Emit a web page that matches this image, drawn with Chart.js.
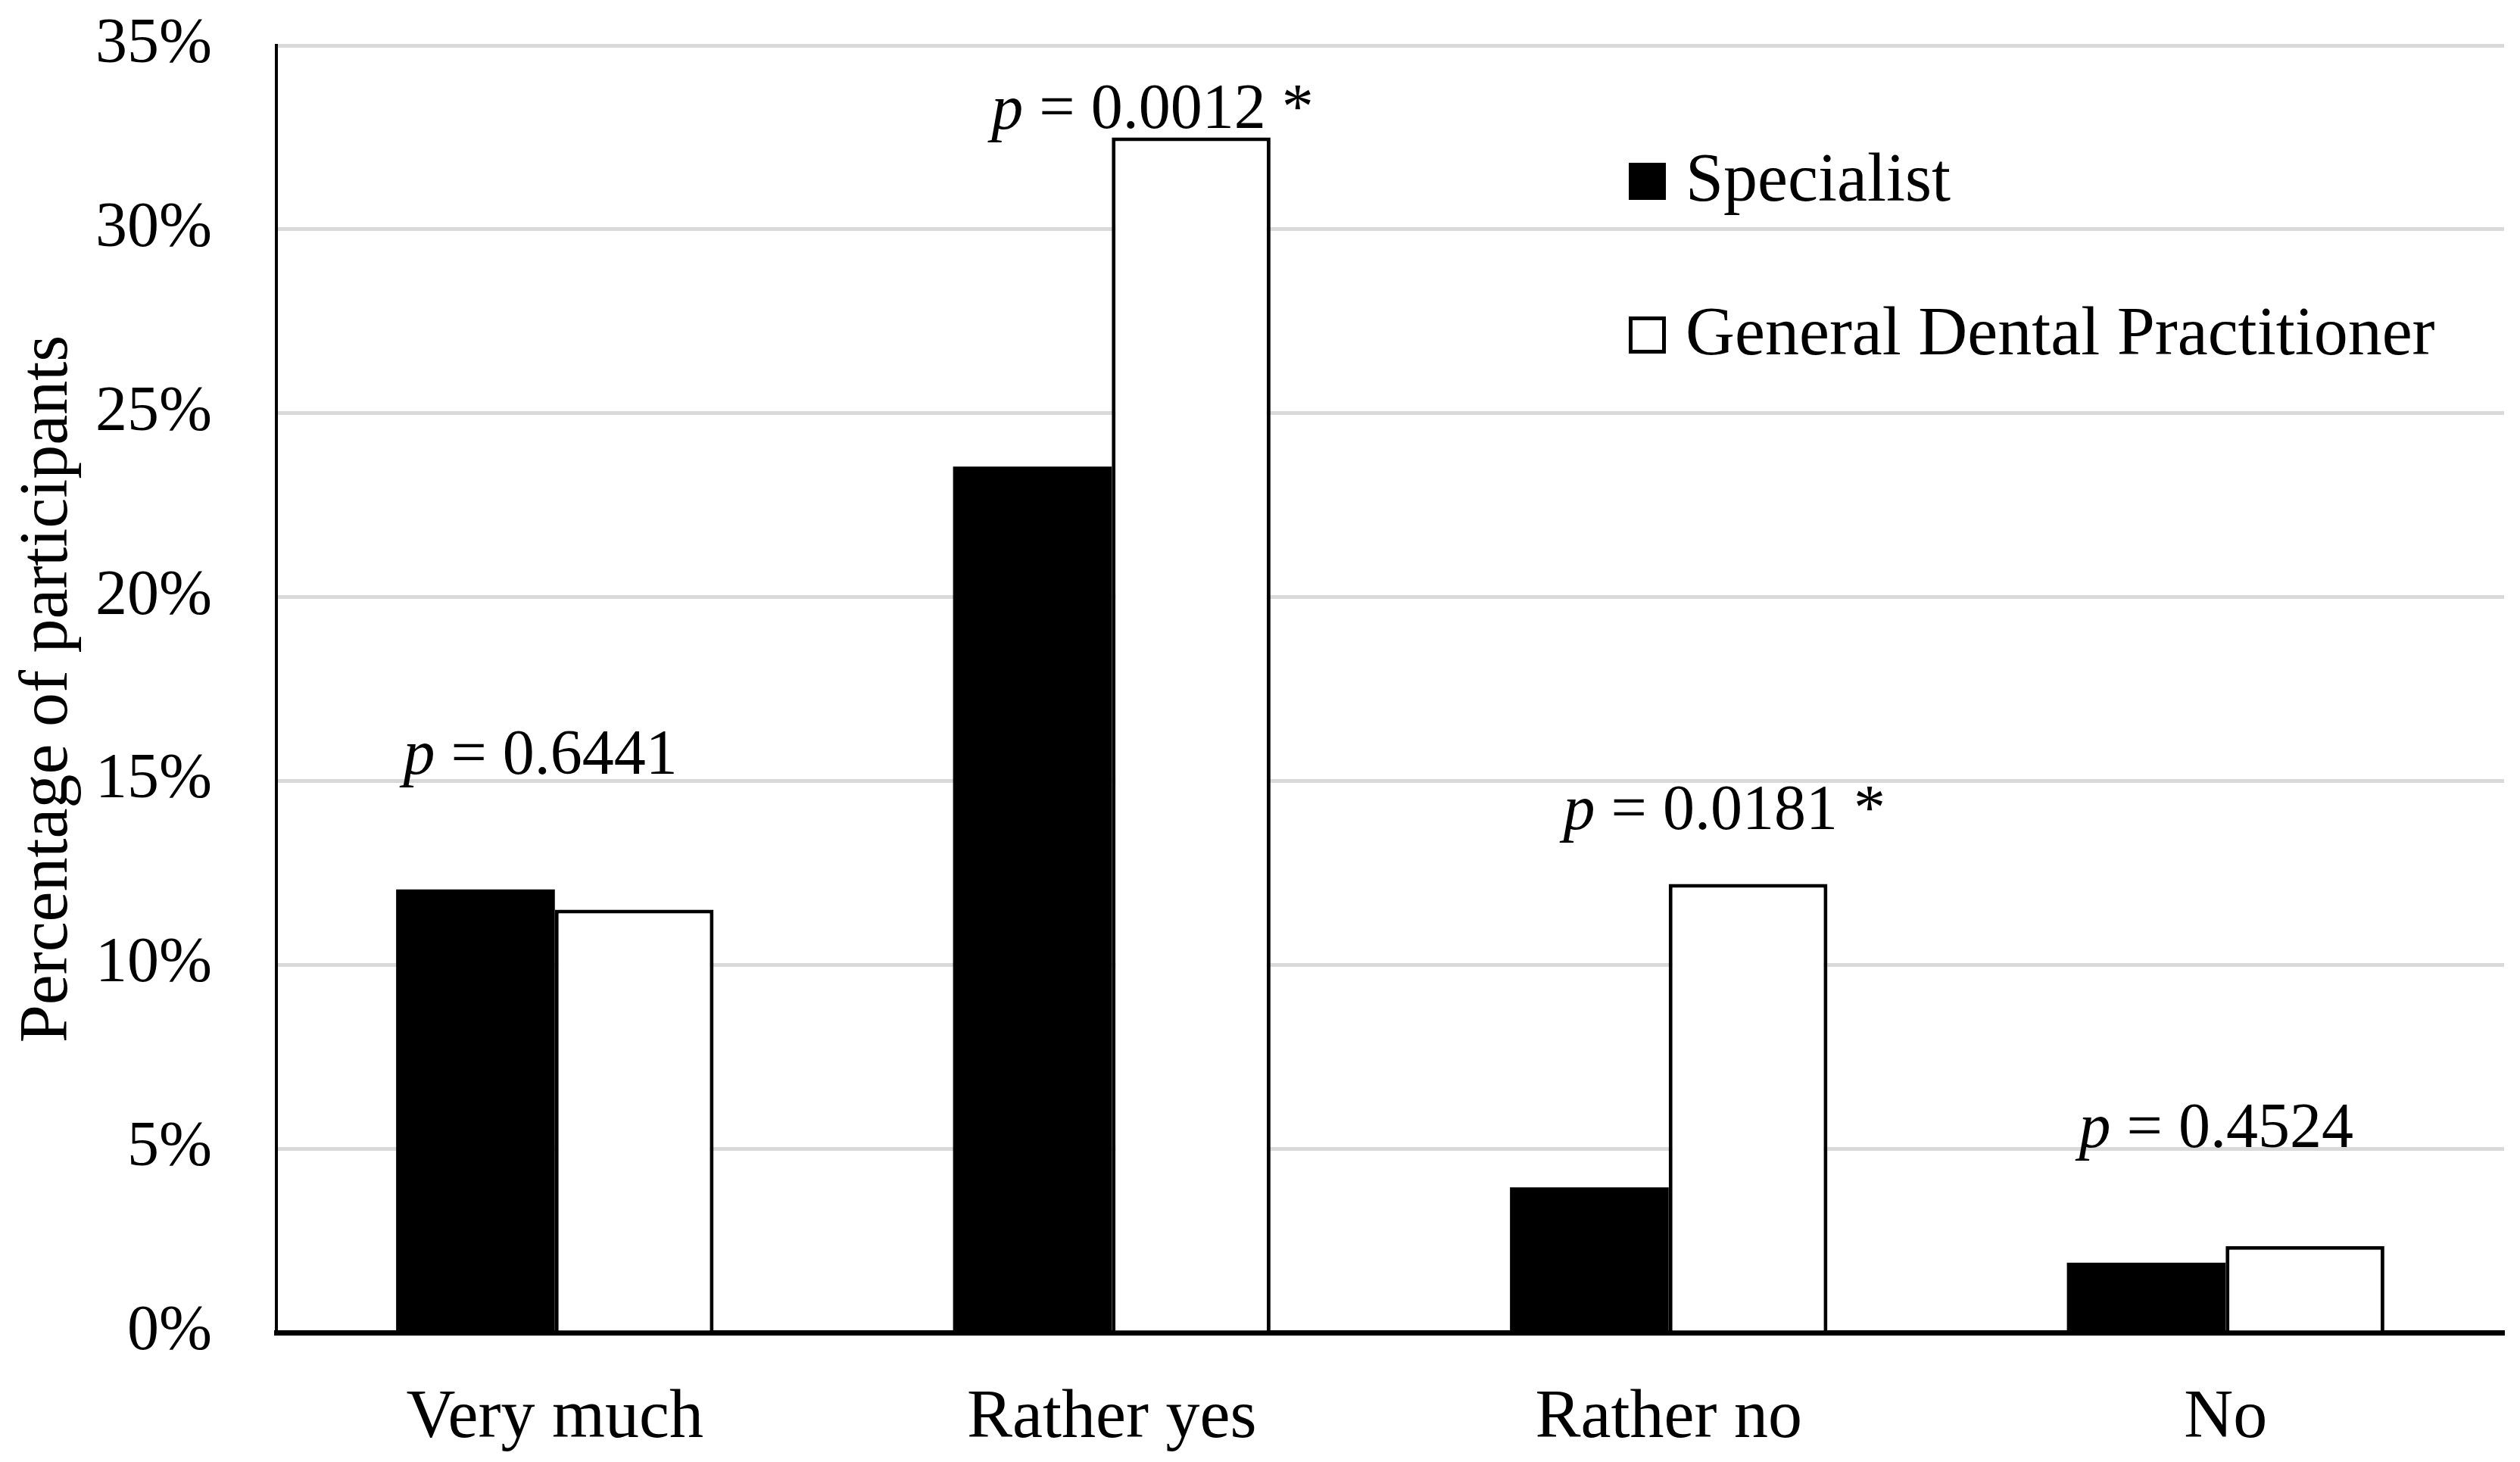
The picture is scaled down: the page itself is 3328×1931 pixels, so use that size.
<!DOCTYPE html>
<html>
<head>
<meta charset="utf-8">
<script src="https://cdn.jsdelivr.net/npm/chart.js@4.4.1/dist/chart.umd.min.js"></script>
<style>
  html, body { margin: 0; padding: 0; background: #fff; }
  #wrap { width: 3328px; height: 1931px; }
</style>
</head>
<body>
<div id="wrap"><canvas id="surveyChart" width="3328" height="1931"></canvas></div>
<script>
const categories = ["Very much", "Rather yes", "Rather no", "No"];
const specialist = [12.05, 23.55, 3.95, 1.9];
const generalDentist = [11.5, 32.5, 12.2, 2.35];
const pValues = ["0.6441", "0.0012 *", "0.0181 *", "0.4524"];
// where each p label sits: value on the y axis, shift in category widths
const pLabelAt = [15.65, 33.2, 14.15, 5.5];
const pLabelShift = [-0.026, 0.073, 0.1, -0.017];
const yTicks = [0, 5, 10, 15, 20, 25, 30, 35];

const serif = "'Liberation Serif', 'Times New Roman', serif";

const pLabels = {
    id: "pLabels",
    afterDatasetsDraw(chart) {
        const ctx = chart.ctx;
        const x = chart.scales.x, y = chart.scales.y;
        const catW = (x.right - x.left) / categories.length;
        ctx.save();
        ctx.fillStyle = "#000";
        ctx.textBaseline = "middle";
        ctx.textAlign = "left";
        pValues.forEach(function (pv, i) {
            const rest = " = " + pv;
            ctx.font = "italic 84px " + serif;
            const wP = ctx.measureText("p").width;
            ctx.font = "84px " + serif;
            const wR = ctx.measureText(rest).width;
            const cx = x.getPixelForValue(i) + pLabelShift[i] * catW;
            const cy = y.getPixelForValue(pLabelAt[i]);
            const sx = cx - (wP + wR) / 2;
            ctx.font = "italic 84px " + serif;
            ctx.fillText("p", sx, cy);
            ctx.font = "84px " + serif;
            ctx.fillText(rest, sx + wP, cy);
        });
        ctx.restore();
    }
};

const boxLegend = {
    id: "boxLegend",
    afterDraw(chart) {
        const ctx = chart.ctx;
        const rows = [239, 442];
        ctx.save();
        ctx.font = "90px " + serif;
        ctx.textBaseline = "middle";
        chart.data.datasets.forEach(function (ds, i) {
            const cy = rows[i];
            ctx.fillStyle = ds.backgroundColor;
            ctx.fillRect(2151, cy - 24, 49, 49);
            ctx.lineWidth = 5;
            ctx.strokeStyle = "#000";
            ctx.strokeRect(2153.5, cy - 21.5, 44, 44);
            ctx.fillStyle = "#000";
            ctx.fillText(ds.label, 2226, cy + 2);
        });
        ctx.restore();
    }
};

new Chart(document.getElementById("surveyChart"), {
    type: "bar",
    data: {
        labels: categories,
        datasets: [
            {
                label: "Specialist",
                data: specialist,
                backgroundColor: "#000000",
                borderWidth: 0
            },
            {
                label: "General Dental Practitioner",
                data: generalDentist,
                backgroundColor: "#ffffff",
                borderColor: "#000000",
                borderWidth: 5
            }
        ]
    },
    options: {
        responsive: false,
        devicePixelRatio: 1,
        animation: false,
        categoryPercentage: 0.57,
        barPercentage: 1.0,
        layout: { padding: { top: 60, right: 21, left: 0, bottom: 0 } },
        plugins: {
            legend: { display: false },
            tooltip: { enabled: false }
        },
        scales: {
            x: {
                grid: { display: false, drawTicks: false },
                border: { display: true, color: "#000", width: 7 },
                ticks: {
                    color: "#000",
                    font: { family: serif, size: 90 },
                    padding: 60
                },
                afterFit(scale) { scale.height = 171; }
            },
            y: {
                min: 0,
                max: 35,
                afterBuildTicks(scale) {
                    scale.ticks = yTicks.map(v => ({ value: v }));
                },
                grid: { color: "#d9d9d9", lineWidth: 5, drawTicks: false },
                border: { display: true, color: "#000", width: 4 },
                ticks: {
                    color: "#000",
                    font: { family: serif, size: 84 },
                    padding: 85,
                    callback: v => v + "%"
                },
                title: {
                    display: true,
                    text: "Percentage of participants",
                    color: "#000",
                    font: { family: serif, size: 90 },
                    padding: { top: 10, bottom: 0 }
                },
                afterFit(scale) {
                    scale.width = 365;
                    scale.paddingTop = 0;
                    scale.paddingBottom = 0;
                }
            }
        }
    },
    plugins: [pLabels, boxLegend]
});
</script>
</body>
</html>
